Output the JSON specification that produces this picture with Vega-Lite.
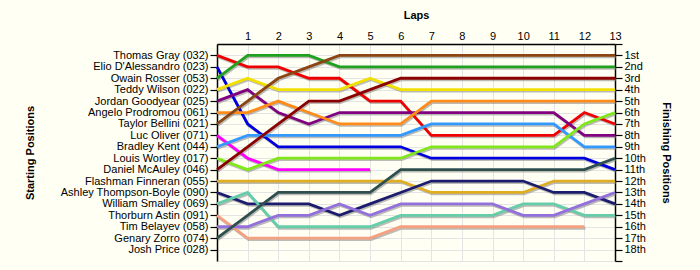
{
"$schema": "https://vega.github.io/schema/vega-lite/v6.json",
"width": 398, "height": 217,
"autosize": {"type": "none"},
"padding": {"left": 217, "top": 44, "right": 85, "bottom": 9},
"background": "#fffff4",
"config": {"view": {"stroke": null},
 "axis": {"labelFont": "Liberation Sans", "titleFont": "Liberation Sans", "labelFontSize": 11, "labelColor": "#000", "titleColor": "#000", "titleFontSize": 11, "titleFontWeight": "bold", "domainColor": "#000", "tickColor": "#000", "gridColor": "#e4e4e4", "domainWidth": 1.5, "tickWidth": 1.2}},
"datasets": {
"drivers": [
{"name": "Thomas Gray (032)", "start": 1},
{"name": "Elio D'Alessandro (023)", "start": 2},
{"name": "Owain Rosser (053)", "start": 3},
{"name": "Teddy Wilson (022)", "start": 4},
{"name": "Jordan Goodyear (025)", "start": 5},
{"name": "Angelo Prodromou (061)", "start": 6},
{"name": "Taylor Bellini (021)", "start": 7},
{"name": "Luc Oliver (071)", "start": 8},
{"name": "Bradley Kent (044)", "start": 9},
{"name": "Louis Wortley (017)", "start": 10},
{"name": "Daniel McAuley (046)", "start": 11},
{"name": "Flashman Finneran (055)", "start": 12},
{"name": "Ashley Thompson-Boyle (090)", "start": 13},
{"name": "William Smalley (069)", "start": 14},
{"name": "Thorburn Astin (091)", "start": 15},
{"name": "Tim Belayev (058)", "start": 16},
{"name": "Genary Zorro (074)", "start": 17},
{"name": "Josh Price (028)", "start": 18}
],
"laps": [
{"driver":"Thomas Gray (032)","lap":0,"pos":1},{"driver":"Thomas Gray (032)","lap":1,"pos":2},{"driver":"Thomas Gray (032)","lap":2,"pos":2},{"driver":"Thomas Gray (032)","lap":3,"pos":3},{"driver":"Thomas Gray (032)","lap":4,"pos":3},{"driver":"Thomas Gray (032)","lap":5,"pos":5},{"driver":"Thomas Gray (032)","lap":6,"pos":5},{"driver":"Thomas Gray (032)","lap":7,"pos":8},{"driver":"Thomas Gray (032)","lap":8,"pos":8},{"driver":"Thomas Gray (032)","lap":9,"pos":8},{"driver":"Thomas Gray (032)","lap":10,"pos":8},{"driver":"Thomas Gray (032)","lap":11,"pos":8},{"driver":"Thomas Gray (032)","lap":12,"pos":6},{"driver":"Thomas Gray (032)","lap":13,"pos":7},
{"driver":"Elio D'Alessandro (023)","lap":0,"pos":2},{"driver":"Elio D'Alessandro (023)","lap":1,"pos":7},{"driver":"Elio D'Alessandro (023)","lap":2,"pos":9},{"driver":"Elio D'Alessandro (023)","lap":3,"pos":9},{"driver":"Elio D'Alessandro (023)","lap":4,"pos":9},{"driver":"Elio D'Alessandro (023)","lap":5,"pos":9},{"driver":"Elio D'Alessandro (023)","lap":6,"pos":9},{"driver":"Elio D'Alessandro (023)","lap":7,"pos":10},{"driver":"Elio D'Alessandro (023)","lap":8,"pos":10},{"driver":"Elio D'Alessandro (023)","lap":9,"pos":10},{"driver":"Elio D'Alessandro (023)","lap":10,"pos":10},{"driver":"Elio D'Alessandro (023)","lap":11,"pos":10},{"driver":"Elio D'Alessandro (023)","lap":12,"pos":10},{"driver":"Elio D'Alessandro (023)","lap":13,"pos":11},
{"driver":"Owain Rosser (053)","lap":0,"pos":3},{"driver":"Owain Rosser (053)","lap":1,"pos":1},{"driver":"Owain Rosser (053)","lap":2,"pos":1},{"driver":"Owain Rosser (053)","lap":3,"pos":1},{"driver":"Owain Rosser (053)","lap":4,"pos":2},{"driver":"Owain Rosser (053)","lap":5,"pos":2},{"driver":"Owain Rosser (053)","lap":6,"pos":2},{"driver":"Owain Rosser (053)","lap":7,"pos":2},{"driver":"Owain Rosser (053)","lap":8,"pos":2},{"driver":"Owain Rosser (053)","lap":9,"pos":2},{"driver":"Owain Rosser (053)","lap":10,"pos":2},{"driver":"Owain Rosser (053)","lap":11,"pos":2},{"driver":"Owain Rosser (053)","lap":12,"pos":2},{"driver":"Owain Rosser (053)","lap":13,"pos":2},
{"driver":"Teddy Wilson (022)","lap":0,"pos":4},{"driver":"Teddy Wilson (022)","lap":1,"pos":3},{"driver":"Teddy Wilson (022)","lap":2,"pos":4},{"driver":"Teddy Wilson (022)","lap":3,"pos":4},{"driver":"Teddy Wilson (022)","lap":4,"pos":4},{"driver":"Teddy Wilson (022)","lap":5,"pos":3},{"driver":"Teddy Wilson (022)","lap":6,"pos":4},{"driver":"Teddy Wilson (022)","lap":7,"pos":4},{"driver":"Teddy Wilson (022)","lap":8,"pos":4},{"driver":"Teddy Wilson (022)","lap":9,"pos":4},{"driver":"Teddy Wilson (022)","lap":10,"pos":4},{"driver":"Teddy Wilson (022)","lap":11,"pos":4},{"driver":"Teddy Wilson (022)","lap":12,"pos":4},{"driver":"Teddy Wilson (022)","lap":13,"pos":4},
{"driver":"Jordan Goodyear (025)","lap":0,"pos":5},{"driver":"Jordan Goodyear (025)","lap":1,"pos":4},{"driver":"Jordan Goodyear (025)","lap":2,"pos":6},{"driver":"Jordan Goodyear (025)","lap":3,"pos":7},{"driver":"Jordan Goodyear (025)","lap":4,"pos":6},{"driver":"Jordan Goodyear (025)","lap":5,"pos":6},{"driver":"Jordan Goodyear (025)","lap":6,"pos":6},{"driver":"Jordan Goodyear (025)","lap":7,"pos":6},{"driver":"Jordan Goodyear (025)","lap":8,"pos":6},{"driver":"Jordan Goodyear (025)","lap":9,"pos":6},{"driver":"Jordan Goodyear (025)","lap":10,"pos":6},{"driver":"Jordan Goodyear (025)","lap":11,"pos":6},{"driver":"Jordan Goodyear (025)","lap":12,"pos":8},{"driver":"Jordan Goodyear (025)","lap":13,"pos":8},
{"driver":"Angelo Prodromou (061)","lap":0,"pos":6},{"driver":"Angelo Prodromou (061)","lap":1,"pos":6},{"driver":"Angelo Prodromou (061)","lap":2,"pos":5},{"driver":"Angelo Prodromou (061)","lap":3,"pos":6},{"driver":"Angelo Prodromou (061)","lap":4,"pos":7},{"driver":"Angelo Prodromou (061)","lap":5,"pos":7},{"driver":"Angelo Prodromou (061)","lap":6,"pos":7},{"driver":"Angelo Prodromou (061)","lap":7,"pos":5},{"driver":"Angelo Prodromou (061)","lap":8,"pos":5},{"driver":"Angelo Prodromou (061)","lap":9,"pos":5},{"driver":"Angelo Prodromou (061)","lap":10,"pos":5},{"driver":"Angelo Prodromou (061)","lap":11,"pos":5},{"driver":"Angelo Prodromou (061)","lap":12,"pos":5},{"driver":"Angelo Prodromou (061)","lap":13,"pos":5},
{"driver":"Taylor Bellini (021)","lap":0,"pos":7},{"driver":"Taylor Bellini (021)","lap":1,"pos":5},{"driver":"Taylor Bellini (021)","lap":2,"pos":3},{"driver":"Taylor Bellini (021)","lap":3,"pos":2},{"driver":"Taylor Bellini (021)","lap":4,"pos":1},{"driver":"Taylor Bellini (021)","lap":5,"pos":1},{"driver":"Taylor Bellini (021)","lap":6,"pos":1},{"driver":"Taylor Bellini (021)","lap":7,"pos":1},{"driver":"Taylor Bellini (021)","lap":8,"pos":1},{"driver":"Taylor Bellini (021)","lap":9,"pos":1},{"driver":"Taylor Bellini (021)","lap":10,"pos":1},{"driver":"Taylor Bellini (021)","lap":11,"pos":1},{"driver":"Taylor Bellini (021)","lap":12,"pos":1},{"driver":"Taylor Bellini (021)","lap":13,"pos":1},
{"driver":"Luc Oliver (071)","lap":0,"pos":8},{"driver":"Luc Oliver (071)","lap":1,"pos":10},{"driver":"Luc Oliver (071)","lap":2,"pos":11},{"driver":"Luc Oliver (071)","lap":3,"pos":11},{"driver":"Luc Oliver (071)","lap":4,"pos":11},{"driver":"Luc Oliver (071)","lap":5,"pos":11},
{"driver":"Bradley Kent (044)","lap":0,"pos":9},{"driver":"Bradley Kent (044)","lap":1,"pos":8},{"driver":"Bradley Kent (044)","lap":2,"pos":8},{"driver":"Bradley Kent (044)","lap":3,"pos":8},{"driver":"Bradley Kent (044)","lap":4,"pos":8},{"driver":"Bradley Kent (044)","lap":5,"pos":8},{"driver":"Bradley Kent (044)","lap":6,"pos":8},{"driver":"Bradley Kent (044)","lap":7,"pos":7},{"driver":"Bradley Kent (044)","lap":8,"pos":7},{"driver":"Bradley Kent (044)","lap":9,"pos":7},{"driver":"Bradley Kent (044)","lap":10,"pos":7},{"driver":"Bradley Kent (044)","lap":11,"pos":7},{"driver":"Bradley Kent (044)","lap":12,"pos":9},{"driver":"Bradley Kent (044)","lap":13,"pos":9},
{"driver":"Louis Wortley (017)","lap":0,"pos":10},{"driver":"Louis Wortley (017)","lap":1,"pos":11},{"driver":"Louis Wortley (017)","lap":2,"pos":10},{"driver":"Louis Wortley (017)","lap":3,"pos":10},{"driver":"Louis Wortley (017)","lap":4,"pos":10},{"driver":"Louis Wortley (017)","lap":5,"pos":10},{"driver":"Louis Wortley (017)","lap":6,"pos":10},{"driver":"Louis Wortley (017)","lap":7,"pos":9},{"driver":"Louis Wortley (017)","lap":8,"pos":9},{"driver":"Louis Wortley (017)","lap":9,"pos":9},{"driver":"Louis Wortley (017)","lap":10,"pos":9},{"driver":"Louis Wortley (017)","lap":11,"pos":9},{"driver":"Louis Wortley (017)","lap":12,"pos":7},{"driver":"Louis Wortley (017)","lap":13,"pos":6},
{"driver":"Daniel McAuley (046)","lap":0,"pos":11},{"driver":"Daniel McAuley (046)","lap":1,"pos":9},{"driver":"Daniel McAuley (046)","lap":2,"pos":7},{"driver":"Daniel McAuley (046)","lap":3,"pos":5},{"driver":"Daniel McAuley (046)","lap":4,"pos":5},{"driver":"Daniel McAuley (046)","lap":5,"pos":4},{"driver":"Daniel McAuley (046)","lap":6,"pos":3},{"driver":"Daniel McAuley (046)","lap":7,"pos":3},{"driver":"Daniel McAuley (046)","lap":8,"pos":3},{"driver":"Daniel McAuley (046)","lap":9,"pos":3},{"driver":"Daniel McAuley (046)","lap":10,"pos":3},{"driver":"Daniel McAuley (046)","lap":11,"pos":3},{"driver":"Daniel McAuley (046)","lap":12,"pos":3},{"driver":"Daniel McAuley (046)","lap":13,"pos":3},
{"driver":"Flashman Finneran (055)","lap":0,"pos":12},{"driver":"Flashman Finneran (055)","lap":1,"pos":12},{"driver":"Flashman Finneran (055)","lap":2,"pos":12},{"driver":"Flashman Finneran (055)","lap":3,"pos":12},{"driver":"Flashman Finneran (055)","lap":4,"pos":12},{"driver":"Flashman Finneran (055)","lap":5,"pos":12},{"driver":"Flashman Finneran (055)","lap":6,"pos":12},{"driver":"Flashman Finneran (055)","lap":7,"pos":13},{"driver":"Flashman Finneran (055)","lap":8,"pos":13},{"driver":"Flashman Finneran (055)","lap":9,"pos":13},{"driver":"Flashman Finneran (055)","lap":10,"pos":13},{"driver":"Flashman Finneran (055)","lap":11,"pos":12},{"driver":"Flashman Finneran (055)","lap":12,"pos":12},{"driver":"Flashman Finneran (055)","lap":13,"pos":12},
{"driver":"Ashley Thompson-Boyle (090)","lap":0,"pos":13},{"driver":"Ashley Thompson-Boyle (090)","lap":1,"pos":14},{"driver":"Ashley Thompson-Boyle (090)","lap":2,"pos":14},{"driver":"Ashley Thompson-Boyle (090)","lap":3,"pos":14},{"driver":"Ashley Thompson-Boyle (090)","lap":4,"pos":15},{"driver":"Ashley Thompson-Boyle (090)","lap":5,"pos":14},{"driver":"Ashley Thompson-Boyle (090)","lap":6,"pos":13},{"driver":"Ashley Thompson-Boyle (090)","lap":7,"pos":12},{"driver":"Ashley Thompson-Boyle (090)","lap":8,"pos":12},{"driver":"Ashley Thompson-Boyle (090)","lap":9,"pos":12},{"driver":"Ashley Thompson-Boyle (090)","lap":10,"pos":12},{"driver":"Ashley Thompson-Boyle (090)","lap":11,"pos":13},{"driver":"Ashley Thompson-Boyle (090)","lap":12,"pos":13},{"driver":"Ashley Thompson-Boyle (090)","lap":13,"pos":14},
{"driver":"William Smalley (069)","lap":0,"pos":14},{"driver":"William Smalley (069)","lap":1,"pos":13},{"driver":"William Smalley (069)","lap":2,"pos":16},{"driver":"William Smalley (069)","lap":3,"pos":16},{"driver":"William Smalley (069)","lap":4,"pos":16},{"driver":"William Smalley (069)","lap":5,"pos":16},{"driver":"William Smalley (069)","lap":6,"pos":15},{"driver":"William Smalley (069)","lap":7,"pos":15},{"driver":"William Smalley (069)","lap":8,"pos":15},{"driver":"William Smalley (069)","lap":9,"pos":15},{"driver":"William Smalley (069)","lap":10,"pos":14},{"driver":"William Smalley (069)","lap":11,"pos":14},{"driver":"William Smalley (069)","lap":12,"pos":15},{"driver":"William Smalley (069)","lap":13,"pos":15},
{"driver":"Thorburn Astin (091)","lap":0,"pos":15},{"driver":"Thorburn Astin (091)","lap":1,"pos":17},{"driver":"Thorburn Astin (091)","lap":2,"pos":17},{"driver":"Thorburn Astin (091)","lap":3,"pos":17},{"driver":"Thorburn Astin (091)","lap":4,"pos":17},{"driver":"Thorburn Astin (091)","lap":5,"pos":17},{"driver":"Thorburn Astin (091)","lap":6,"pos":16},{"driver":"Thorburn Astin (091)","lap":7,"pos":16},{"driver":"Thorburn Astin (091)","lap":8,"pos":16},{"driver":"Thorburn Astin (091)","lap":9,"pos":16},{"driver":"Thorburn Astin (091)","lap":10,"pos":16},{"driver":"Thorburn Astin (091)","lap":11,"pos":16},{"driver":"Thorburn Astin (091)","lap":12,"pos":16},
{"driver":"Tim Belayev (058)","lap":0,"pos":16},{"driver":"Tim Belayev (058)","lap":1,"pos":16},{"driver":"Tim Belayev (058)","lap":2,"pos":15},{"driver":"Tim Belayev (058)","lap":3,"pos":15},{"driver":"Tim Belayev (058)","lap":4,"pos":14},{"driver":"Tim Belayev (058)","lap":5,"pos":15},{"driver":"Tim Belayev (058)","lap":6,"pos":14},{"driver":"Tim Belayev (058)","lap":7,"pos":14},{"driver":"Tim Belayev (058)","lap":8,"pos":14},{"driver":"Tim Belayev (058)","lap":9,"pos":14},{"driver":"Tim Belayev (058)","lap":10,"pos":15},{"driver":"Tim Belayev (058)","lap":11,"pos":15},{"driver":"Tim Belayev (058)","lap":12,"pos":14},{"driver":"Tim Belayev (058)","lap":13,"pos":13},
{"driver":"Genary Zorro (074)","lap":0,"pos":17},{"driver":"Genary Zorro (074)","lap":1,"pos":15},{"driver":"Genary Zorro (074)","lap":2,"pos":13},{"driver":"Genary Zorro (074)","lap":3,"pos":13},{"driver":"Genary Zorro (074)","lap":4,"pos":13},{"driver":"Genary Zorro (074)","lap":5,"pos":13},{"driver":"Genary Zorro (074)","lap":6,"pos":11},{"driver":"Genary Zorro (074)","lap":7,"pos":11},{"driver":"Genary Zorro (074)","lap":8,"pos":11},{"driver":"Genary Zorro (074)","lap":9,"pos":11},{"driver":"Genary Zorro (074)","lap":10,"pos":11},{"driver":"Genary Zorro (074)","lap":11,"pos":11},{"driver":"Genary Zorro (074)","lap":12,"pos":11},{"driver":"Genary Zorro (074)","lap":13,"pos":10}
]
},
"layer": [
{
 "data": {"name": "laps"},
 "encoding": {
  "x": {"field": "lap", "type": "quantitative", "scale": {"domain": [0, 13], "nice": false, "zero": false},
   "axis": {"orient": "top", "values": [0,1,2,3,4,5,6,7,8,9,10,11,12,13], "labelExpr": "datum.value == 0 ? '' : datum.label", "tickSize": 0, "labelPadding": 3, "grid": true, "title": "Laps", "titleX": 199, "titleY": -24, "titleAlign": "center", "labelFlush": false, "labelOverlap": false}},
  "y": {"field": "pos", "type": "quantitative", "scale": {"domain": [0, 19], "reverse": true, "nice": false, "zero": false},
   "axis": {"orient": "right", "values": [0,1,2,3,4,5,6,7,8,9,10,11,12,13,14,15,16,17,18,19], "labelExpr": "datum.value == 0 || datum.value == 19 ? '' : datum.value + (datum.value == 1 ? 'st' : datum.value == 2 ? 'nd' : datum.value == 3 ? 'rd' : 'th')", "tickSize": 7, "labelPadding": 2, "grid": true, "labelFlush": false, "labelOverlap": false, "title": "Finishing Positions", "titleAngle": 90, "titleX": 50, "titleY": 108.5, "titleAlign": "center", "titleBaseline": "middle"}}
 },
 "layer": [
  {"mark": {"type": "line", "color": "#7a7a7a", "opacity": 0.5, "strokeWidth": 2.8, "xOffset": 1, "yOffset": 1.5},
   "encoding": {"detail": {"field": "driver", "type": "nominal"}}},
  {"mark": {"type": "line", "strokeWidth": 2.8},
   "encoding": {"color": {"field": "driver", "type": "nominal", "legend": null,
    "scale": {"domain": ["Thomas Gray (032)", "Elio D'Alessandro (023)", "Owain Rosser (053)", "Teddy Wilson (022)", "Jordan Goodyear (025)", "Angelo Prodromou (061)", "Taylor Bellini (021)", "Luc Oliver (071)", "Bradley Kent (044)", "Louis Wortley (017)", "Daniel McAuley (046)", "Flashman Finneran (055)", "Ashley Thompson-Boyle (090)", "William Smalley (069)", "Thorburn Astin (091)", "Tim Belayev (058)", "Genary Zorro (074)"],
     "range": ["#ee0000", "#0000dd", "#1fa01f", "#f2e000", "#800080", "#ff8c1a", "#8b4513", "#ff00ff", "#3399ff", "#80e81a", "#8b0000", "#e0ac20", "#1c1c6e", "#66cdaa", "#f5a080", "#9370db", "#2f4f4f"]}}}}
 ]
},
{
 "data": {"name": "drivers"},
 "mark": {"type": "point", "opacity": 0},
 "encoding": {
  "y": {"field": "name", "type": "nominal", "sort": {"field": "start", "op": "min"}, "scale": {"type": "point", "padding": 1},
   "axis": {"orient": "left", "tickSize": 7, "labelPadding": 2, "grid": false, "title": "Starting Positions", "titleAngle": -90, "titleX": -187, "titleY": 108.5, "titleAlign": "center", "titleBaseline": "middle", "labelOverlap": false}}
 }
}
],
"resolve": {"scale": {"y": "independent"}, "axis": {"y": "independent"}}
}
